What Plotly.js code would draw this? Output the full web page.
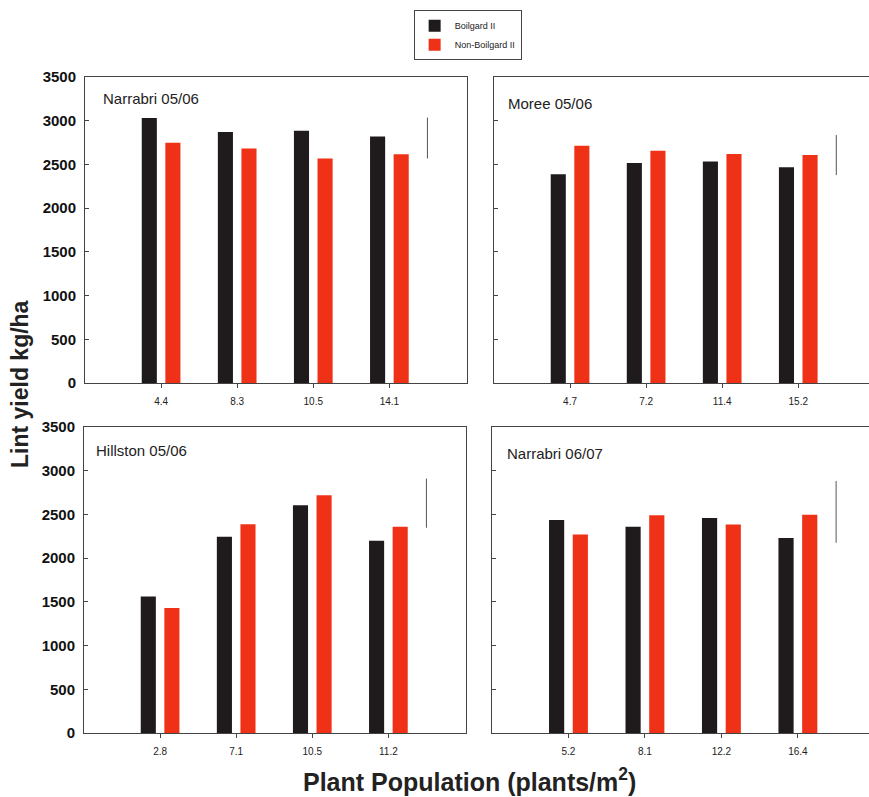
<!DOCTYPE html>
<html>
<head>
<meta charset="utf-8">
<script src="https://cdn.plot.ly/plotly-3.0.1.min.js"></script>
<style>html,body{margin:0;padding:0;background:#fff;}#chart{width:869px;height:797px;}</style>
</head>
<body>
<div id="chart"></div>
<script>
// ---- Data ----
const panelNames = ["Narrabri 05/06", "Moree 05/06", "Hillston 05/06", "Narrabri 06/07"];
const popNarrabri0506 = ["4.4", "8.3", "10.5", "14.1"];
const popMoree0506 = ["4.7", "7.2", "11.4", "15.2"];
const popHillston0506 = ["2.8", "7.1", "10.5", "11.2"];
const popNarrabri0607 = ["5.2", "8.1", "12.2", "16.4"];

const bgNarrabri0506 = [3030, 2872, 2884, 2819];
const nbgNarrabri0506 = [2747, 2682, 2568, 2617];
const bgMoree0506 = [2388, 2515, 2534, 2469];
const nbgMoree0506 = [2714, 2656, 2618, 2607];
const bgHillston0506 = [1560, 2245, 2606, 2199];
const nbgHillston0506 = [1430, 2389, 2720, 2359];
const bgNarrabri0607 = [2435, 2359, 2458, 2229];
const nbgNarrabri0607 = [2271, 2492, 2385, 2496];

// LSD bars (bottom, top)
const lsdNarrabri0506 = [2568, 3036];
const lsdMoree0506 = [2378, 2836];
const lsdHillston0506 = [2347, 2910];
const lsdNarrabri0607 = [2176, 2882];

const seriesNames = ["Boilgard II", "Non-Boilgard II"];

// ---- Build ----
const panels = [
  {pop: popNarrabri0506, bg: bgNarrabri0506, nbg: nbgNarrabri0506, lsd: lsdNarrabri0506},
  {pop: popMoree0506, bg: bgMoree0506, nbg: nbgMoree0506, lsd: lsdMoree0506},
  {pop: popHillston0506, bg: bgHillston0506, nbg: nbgHillston0506, lsd: lsdHillston0506},
  {pop: popNarrabri0607, bg: bgNarrabri0607, nbg: nbgNarrabri0607, lsd: lsdNarrabri0607}
];
const BLACK = '#1f1b1c', RED = '#ef3117';
const W = 869, H = 797;
const traces = [];
const layout = {
  width: W, height: H,
  margin: {l: 0, r: 0, t: 0, b: 0},
  paper_bgcolor: '#fff', plot_bgcolor: '#fff',
  barmode: 'group', bargap: 0.38, bargroupgap: 0.36,
  font: {family: 'Liberation Sans, Arial, sans-serif', color: '#222'},
  showlegend: true,
  legend: {
    x: 0.476, y: 0.987, xanchor: 'left', yanchor: 'top',
    bordercolor: '#444', borderwidth: 1, bgcolor: '#fff',
    font: {size: 9, color: '#222'},
    itemwidth: 30, tracegroupgap: 0,
    entrywidth: 105, entrywidthmode: 'pixels'
  },
  annotations: [], shapes: []
};

const xDom = [[85 / W, 467 / W], [494 / W, 1], [84 / W, 466 / W], [492 / W, 1]];
const yDom = [[1 - 383 / H, 1 - 77 / H], [1 - 383 / H, 1 - 77 / H], [1 - 733 / H, 1 - 427 / H], [1 - 733 / H, 1 - 427 / H]];
const xRange = [[-1, 4.02], [-1, 3.93], [-1, 4.02], [-1, 3.93]];
const labelPos = [[0.042, 0.931], [0.032, 0.915], [0.026, 0.922], [0.034, 0.915]];
const pos = [0, 1, 2, 3];

panels.forEach((p, i) => {
  const n = i + 1;
  const xa = 'x' + (n === 1 ? '' : n), ya = 'y' + (n === 1 ? '' : n);
  traces.push({type: 'bar', x: pos, y: p.bg, name: seriesNames[0], marker: {color: BLACK, line: {width: 0}},
    xaxis: xa, yaxis: ya, legendgroup: 'bg', showlegend: i === 0});
  traces.push({type: 'bar', x: pos, y: p.nbg, name: seriesNames[1], marker: {color: RED, line: {width: 0}},
    xaxis: xa, yaxis: ya, legendgroup: 'nbg', showlegend: i === 0});
  traces.push({type: 'scatter', mode: 'lines', x: [3.5, 3.5], y: p.lsd, line: {color: '#555', width: 1},
    xaxis: xa, yaxis: ya, showlegend: false, hoverinfo: 'skip'});
  const left = (i % 2 === 0);
  layout['xaxis' + (n === 1 ? '' : n)] = {
    domain: xDom[i], anchor: ya, range: xRange[i],
    tickmode: 'array', tickvals: pos, ticktext: p.pop,
    ticks: 'outside', ticklen: 4, tickcolor: '#444',
    ticklabelstandoff: 5,
    tickfont: {size: 10, color: '#222'},
    showline: true, linecolor: '#444', linewidth: 1, mirror: true,
    showgrid: false, zeroline: false, fixedrange: true
  };
  layout['yaxis' + (n === 1 ? '' : n)] = {
    domain: yDom[i], anchor: xa, range: [0, 3500], dtick: 500,
    ticks: 'inside', ticklen: 4, tickcolor: '#444',
    showticklabels: left,
    ticklabelstandoff: 5,
    tickfont: {size: 15, color: '#111', weight: 'bold'},
    showline: true, linecolor: '#444', linewidth: 1, mirror: true,
    showgrid: false, zeroline: false, fixedrange: true
  };
  layout.annotations.push({
    text: panelNames[i], xref: xa + ' domain', yref: ya + ' domain',
    x: labelPos[i][0], y: labelPos[i][1], xanchor: 'left', yanchor: 'middle',
    showarrow: false, font: {size: 15, color: '#222'}
  });
});

layout.annotations.push({
  text: 'Lint yield kg/ha', xref: 'paper', yref: 'paper', x: 20 / W, y: 1 - 384 / H,
  textangle: -90, showarrow: false, xanchor: 'center', yanchor: 'middle',
  font: {size: 23, color: '#222', weight: 'bold'}
});
layout.annotations.push({
  text: 'Plant Population (plants/m<sup>2</sup>)', xref: 'paper', yref: 'paper', x: 469 / W, y: 1 - 780 / H,
  showarrow: false, xanchor: 'center', yanchor: 'middle',
  font: {size: 25, color: '#222', weight: 'bold'}
});

Plotly.newPlot('chart', traces, layout, {displayModeBar: false, staticPlot: true});
</script>
</body>
</html>
